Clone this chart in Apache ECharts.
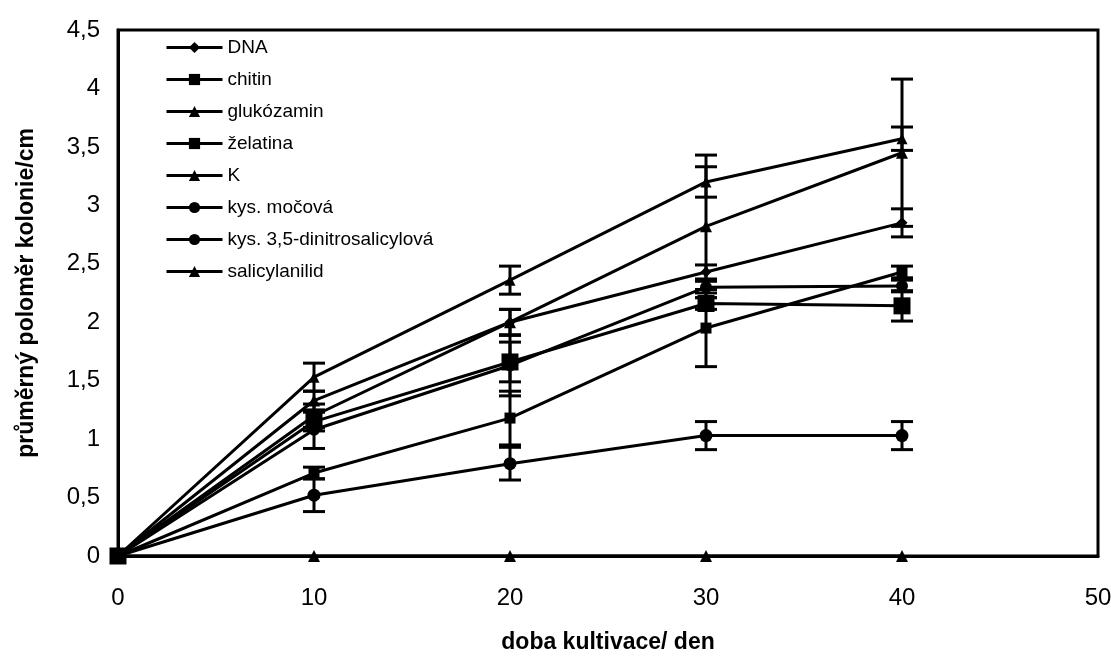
<!DOCTYPE html>
<html>
<head>
<meta charset="utf-8">
<script src="https://cdn.jsdelivr.net/npm/echarts@6/dist/echarts.min.js"></script>
<style>
html,body{margin:0;padding:0;background:#fff;}
#main{width:1111px;height:657px;}
</style>
</head>
<body>
<div id="main"></div>
<script>
// doba kultivace (dny)
var days = [0, 10, 20, 30, 40];

var names = ['DNA', 'chitin', 'glukózamin', 'želatina', 'K', 'kys. močová', 'kys. 3,5-dinitrosalicylová', 'salicylanilid'];
var symbols = ['diamond', 'rect', 'triangle', 'rect', 'triangle', 'circle', 'circle', 'triangle'];
var sizes = [11, 11, 11, 17, 12, 12, 13, 12];

// průměrný poloměr kolonie (cm)
var dna       = [0, 1.20, 2.00, 2.43, 2.85];
var chitin    = [0, 0.71, 1.18, 1.95, 2.43];
var glukozamin = [0, 1.53, 2.36, 3.20, 3.57];
var zelatina  = [0, 1.15, 1.66, 2.16, 2.14];
var kK        = [0, 1.33, 2.00, 2.82, 3.45];
var mocova    = [0, 1.08, 1.63, 2.30, 2.31];
var dns       = [0, 0.52, 0.79, 1.03, 1.03];
var salicyl   = [0, 0, 0, 0, 0];

// směrodatné odchylky
var errDna       = [0, 0.10, 0.11, 0.06, 0.12];
var errChitin    = [0, 0.05, 0.23, 0.33, 0.05];
var errGlukozamin = [0, 0.12, 0.12, 0.13, 0.10];
var errZelatina  = [0, 0.08, 0.17, 0.05, 0.13];
var errK         = [0, 0.08, 0.11, 0.61, 0.63];
var errMocova    = [0, 0.16, 0.26, 0.05, 0.05];
var errDns       = [0, 0.14, 0.14, 0.12, 0.12];
var errSalicyl   = [0, 0, 0, 0, 0];

var values = [dna, chitin, glukozamin, zelatina, kK, mocova, dns, salicyl];
var errs = [errDna, errChitin, errGlukozamin, errZelatina, errK, errMocova, errDns, errSalicyl];

var myChart = echarts.init(document.getElementById('main'));

var series = [];
for (var i = 0; i < names.length; i++) {
    series.push({
        name: names[i],
        type: 'line',
        symbol: symbols[i],
        symbolSize: sizes[i],
        data: days.map(function (d, j) { return [d, values[i][j]]; }),
        lineStyle: {color: '#000', width: 3},
        itemStyle: {color: '#000'},
        z: 3
    });
}

// chybové úsečky
var errData = [];
for (var i = 0; i < values.length; i++) {
    for (var j = 0; j < days.length; j++) {
        if (errs[i][j] > 0) errData.push([days[j], values[i][j], errs[i][j]]);
    }
}
series.push({
    type: 'custom',
    name: 'err',
    data: errData,
    z: 2,
    renderItem: function (params, api) {
        var x = api.value(0), y = api.value(1), e = api.value(2);
        var hi = api.coord([x, y + e]);
        var lo = api.coord([x, y - e]);
        var w = 11;
        var st = {stroke: '#000', lineWidth: 3};
        return {
            type: 'group',
            children: [
                {type: 'line', shape: {x1: hi[0], y1: hi[1], x2: lo[0], y2: lo[1]}, style: st},
                {type: 'line', shape: {x1: hi[0] - w, y1: hi[1], x2: hi[0] + w, y2: hi[1]}, style: st},
                {type: 'line', shape: {x1: lo[0] - w, y1: lo[1], x2: lo[0] + w, y2: lo[1]}, style: st}
            ]
        };
    }
});

option = {
    backgroundColor: '#fff',
    animation: false,
    color: ['#000'],
    textStyle: {fontFamily: 'Liberation Sans, Arial, sans-serif', color: '#000'},
    grid: {
        left: 118, right: 13, top: 30, bottom: 101,
        outerBoundsMode: 'none',
        show: true, borderColor: '#000', borderWidth: 3
    },
    legend: {
        data: names,
        orient: 'vertical',
        left: 160,
        top: 33,
        itemWidth: 56,
        itemHeight: 14,
        itemGap: 13,
        lineStyle: {width: 3},
        textStyle: {fontSize: 19, color: '#000', fontFamily: 'Liberation Sans, Arial, sans-serif'}
    },
    xAxis: {
        type: 'value',
        min: 0, max: 50, interval: 10,
        name: 'doba kultivace/ den',
        nameLocation: 'middle',
        nameGap: 75,
        nameTextStyle: {fontSize: 23, fontWeight: 'bold', color: '#000'},
        axisLine: {lineStyle: {color: '#000', width: 3}},
        axisTick: {show: false},
        axisLabel: {fontSize: 24, color: '#000', margin: 30},
        splitLine: {show: false}
    },
    yAxis: {
        type: 'value',
        min: 0, max: 4.5, interval: 0.5,
        name: 'průměrný poloměr kolonie/cm',
        nameLocation: 'middle',
        nameGap: 80,
        nameTextStyle: {fontSize: 23, fontWeight: 'bold', color: '#000'},
        axisLine: {show: true, lineStyle: {color: '#000', width: 3}},
        axisTick: {show: false},
        axisLabel: {
            fontSize: 24, color: '#000', margin: 18,
            formatter: function (v) { return String(v).replace('.', ','); }
        },
        splitLine: {show: false}
    },
    series: series
};
myChart.setOption(option);
</script>
</body>
</html>
